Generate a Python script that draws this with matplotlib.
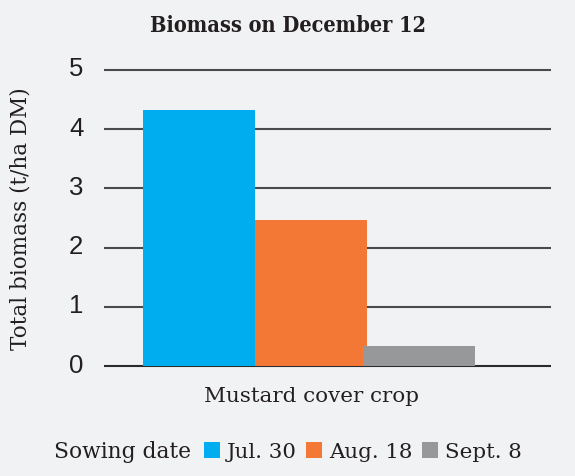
import numpy as np
import matplotlib.pyplot as plt
from matplotlib.patches import Patch
from matplotlib.transforms import ScaledTranslation

# data
category = ["Mustard cover crop"]
sowing_dates = ["Jul. 30", "Aug. 18", "Sept. 8"]
biomass = [4.33, 2.46, 0.34]
colors = ["#00AEEF", "#F37735", "#97989A"]
yticks = [0, 1, 2, 3, 4, 5]

bg = "#F1F2F4"
ink = "#231F20"
serif = "DejaVu Serif"

fig = plt.figure(figsize=(5.75, 4.77), dpi=100, facecolor=bg)
ax = fig.add_axes([0.1814, 0.2268, 0.7774, 0.6281], facecolor=bg)

# bars side by side around the category position
offsets = [-1.0, 0.0, 0.96]
x0 = np.arange(len(category))
for off, val, col, lab in zip(offsets, biomass, colors, sowing_dates):
    ax.bar(x0 + off, [val], width=1.0, color=col, label=lab, zorder=2)

ax.set_xlim(-1.8455, 2.1455)
ax.set_ylim(-0.03, 5.03)

for s in ax.spines.values():
    s.set_visible(False)

ax.set_yticks(yticks)
ax.set_yticklabels([str(v) for v in yticks], fontfamily="Liberation Sans",
                   fontsize=18.5, color=ink)
ax.tick_params(axis="y", length=0, pad=15)
shift = ScaledTranslation(0, 4 / 100, fig.dpi_scale_trans)
for lbl in ax.get_yticklabels():
    lbl.set_transform(lbl.get_transform() + shift)

ax.set_xticks(x0)
ax.set_xticklabels(category, fontfamily=serif, fontsize=15.4, color=ink)
ax.tick_params(axis="x", length=0, pad=13)

# horizontal rules
for v in yticks:
    ax.axhline(v, color="#2B2B2D" if v == 0 else "#4A4A4C",
               lw=1.5, zorder=1)

fig.text(0.5007, 0.9335, "Biomass on December 12", ha="center", va="baseline",
         fontfamily=serif, fontweight="bold", fontstretch="condensed",
         fontsize=15.6, color=ink)
fig.text(20.7 / 575, 1 - 219 / 477, "Total biomass (t/ha DM)", rotation=90,
         ha="center", va="center", fontfamily=serif, fontsize=15.5, color=ink)

# legend row
fs = 15.4
fs_px = fs * 100 / 72
fig.text(54.3 / 575, (477 - 458.3) / 477, "Sowing date", ha="left",
         va="baseline", fontfamily=serif, fontsize=15.7, color=ink)
handles = [Patch(facecolor=c, edgecolor="none") for c in colors]
fig.legend(handles, sowing_dates, loc="center left",
           bbox_to_anchor=(204 / 575, (477 - 452.7) / 477), ncol=3,
           frameon=False, borderpad=0, borderaxespad=0,
           handlelength=16 / fs_px, handleheight=16 / fs_px,
           handletextpad=6.5 / fs_px, columnspacing=10 / fs_px,
           prop={"family": serif, "size": fs}, labelcolor=ink)

fig.savefig("out.png", dpi=100, facecolor=bg)
